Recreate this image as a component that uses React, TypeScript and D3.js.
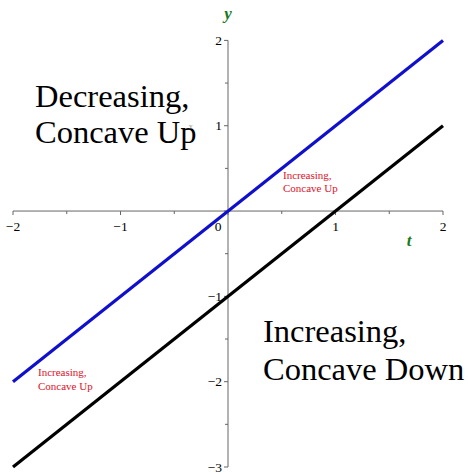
import React from "react";
import * as d3 from "d3";

const tDomain = [-2, 2];
const yDomain = [-3, 2];
const xTicks = [-2, -1, 0, 1, 2];
const yTicks = [-3, -2, -1, 1, 2];
const xMinor = [-1.5, -0.5, 0.5, 1.5];
const yMinor = [-2.5, -1.5, -0.5, 0.5, 1.5];
const blueLine = [[-2, -2], [2, 2]];
const blackLine = [[-2, -3], [2, 1]];
const bigLeft = ["Decreasing,", "Concave Up"];
const bigRight = ["Increasing,", "Concave Down"];
const smallLabel = ["Increasing,", "Concave Up"];

const W = 468, H = 472;

export default function App() {
  const x = d3.scaleLinear().domain(tDomain).range([13, 443]);
  const y = d3.scaleLinear().domain(yDomain).range([467, 40.4]);
  const line = d3.line<number[]>().x(d => x(d[0])).y(d => y(d[1]));
  const x0 = x(0), y0 = y(0);
  const axisColor = "#666";
  const font = "'Liberation Serif', 'Times New Roman', serif";
  const fmt = (v: number) => (v < 0 ? "\u2212" + Math.abs(v) : String(v));
  return (
    <svg width={W} height={H} style={{ position: "absolute", left: 0, top: 0, background: "#fff" }} fontFamily={font}>
      {/* axes */}
      <line x1={x(-2)} x2={x(2)} y1={y0} y2={y0} stroke={axisColor} strokeWidth={1} />
      <line x1={x0} x2={x0} y1={y(2)} y2={y(-3)} stroke={axisColor} strokeWidth={1} />
      {xTicks.map(v => (
        <line key={"xt" + v} x1={x(v)} x2={x(v)} y1={y0} y2={y0 + 4} stroke={axisColor} />
      ))}
      {xMinor.map(v => (
        <line key={"xm" + v} x1={x(v)} x2={x(v)} y1={y0} y2={y0 + 3} stroke={axisColor} />
      ))}
      {[...yTicks, 0].map(v => (
        <line key={"yt" + v} x1={x0 - 4} x2={x0} y1={y(v)} y2={y(v)} stroke={axisColor} />
      ))}
      {yMinor.map(v => (
        <line key={"ym" + v} x1={x0 - 3} x2={x0} y1={y(v)} y2={y(v)} stroke={axisColor} />
      ))}
      {xTicks.filter(v => v !== 0).map(v => (
        <text key={"xl" + v} x={x(v)} y={y0 + 20} fontSize={13.5} textAnchor="middle" fill="#000">{fmt(v)}</text>
      ))}
      <text x={x0 - 10} y={y0 + 20} fontSize={13.5} textAnchor="middle" fill="#000">0</text>
      {yTicks.map(v => (
        <text key={"yl" + v} x={x0 - 6} y={y(v) + 4.5} fontSize={13.5} textAnchor="end" fill="#000">{fmt(v)}</text>
      ))}
      <text x={x0} y={19} fontSize={17} fontWeight="bold" fontStyle="italic" textAnchor="middle" fill="#1a7a1a">y</text>
      <text x={409} y={246} fontSize={17} fontWeight="bold" fontStyle="italic" textAnchor="middle" fill="#1a7a1a">t</text>
      {/* lines */}
      <path d={line(blueLine) || ""} stroke="#1010cc" strokeWidth={3.2} fill="none" />
      <path d={line(blackLine) || ""} stroke="#000" strokeWidth={3.2} fill="none" />
      {/* annotations */}
      <text x={35} y={107} fontSize={32.5} fill="#000">{bigLeft[0]}</text>
      <text x={35} y={143} fontSize={32.5} fill="#000">{bigLeft[1]}</text>
      <text x={189} y={128} fontSize={7} fill="#888">y</text>
      <text x={263} y={342} fontSize={32.5} fill="#000">{bigRight[0]}</text>
      <text x={263} y={380} fontSize={32.5} fill="#000">{bigRight[1]}</text>
      <text x={283} y={179} fontSize={11} fill="#e0102a">{smallLabel[0]}</text>
      <text x={283} y={192} fontSize={11} fill="#e0102a">{smallLabel[1]}</text>
      <text x={38} y={376} fontSize={11} fill="#e0102a">{smallLabel[0]}</text>
      <text x={38} y={390} fontSize={11} fill="#e0102a">{smallLabel[1]}</text>
    </svg>
  );
}
